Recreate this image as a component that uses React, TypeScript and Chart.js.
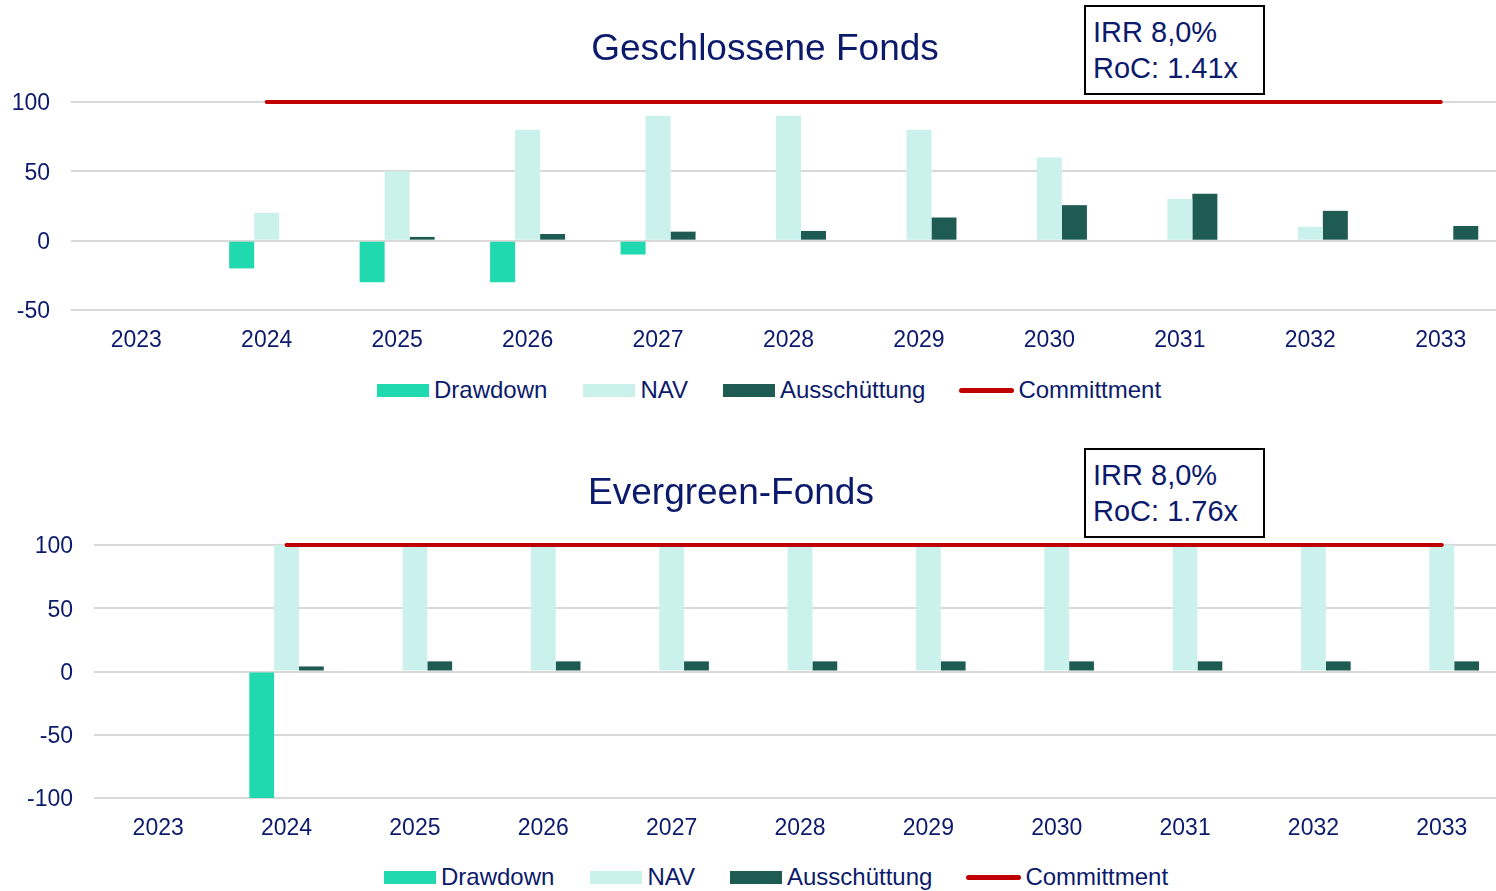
import React, { useEffect, useRef } from "react";
import { Chart, registerables } from "chart.js";

Chart.register(...registerables);

const years = ["2023", "2024", "2025", "2026", "2027", "2028", "2029", "2030", "2031", "2032", "2033"];

// Geschlossene Fonds
const drawdownClosed = [0, -20, -30, -30, -10, 0, 0, 0, 0, 0, 0];
const navClosed = [0, 20, 50, 80, 90, 90, 80, 60, 30, 10, 0];
const distClosed = [0, 0.7, 2.7, 4.8, 6.5, 7, 16.7, 25.6, 33.8, 21.5, 10.6];
const commitClosed = [null, 100, 100, 100, 100, 100, 100, 100, 100, 100, 100];
const closedTicks = { min: -50, max: 100, step: 50 };

// Evergreen-Fonds
const drawdownEver = [0, -100, 0, 0, 0, 0, 0, 0, 0, 0, 0];
const navEver = [0, 100, 100, 100, 100, 100, 100, 100, 100, 100, 100];
const distEver = [0, 4, 8, 8, 8, 8, 8, 8, 8, 8, 8];
const commitEver = [null, 100, 100, 100, 100, 100, 100, 100, 100, 100, 100];
const everTicks = { min: -100, max: 100, step: 50 };

const legendLabels = ["Drawdown", "NAV", "Ausschüttung", "Committment"];

const C_DRAW = "#21d9ae";
const C_NAV = "#cbf1ec";
const C_DIST = "#1e5b52";
const C_COMMIT = "#c00000";
const NAVY = "#0c1a6c";
const FONT = "'Liberation Sans', Arial, sans-serif";

type ChartProps = {
  drawdown: number[];
  nav: number[];
  dist: number[];
  commit: (number | null)[];
  ticks: { min: number; max: number; step: number };
  width: number;
  height: number;
  padTop: number;
  yWidth: number;
  catPct: number;
  style: React.CSSProperties;
};

function FundChart(p: ChartProps) {
  const ref = useRef<HTMLCanvasElement | null>(null);
  useEffect(() => {
    if (!ref.current) return;
    const chart = new Chart(ref.current, {
      type: "bar",
      data: {
        labels: years,
        datasets: [
          {
            type: "line",
            label: legendLabels[3],
            data: p.commit,
            borderColor: C_COMMIT,
            backgroundColor: C_COMMIT,
            borderWidth: 4,
            pointRadius: 0,
            borderCapStyle: "round",
            clip: false,
            order: 0,
          } as any,
          {
            label: legendLabels[0],
            data: p.drawdown,
            backgroundColor: C_DRAW,
            borderWidth: 0,
            order: 1,
          },
          {
            label: legendLabels[1],
            data: p.nav,
            backgroundColor: C_NAV,
            borderWidth: 0,
            order: 1,
          },
          {
            label: legendLabels[2],
            data: p.dist,
            backgroundColor: C_DIST,
            borderWidth: 0,
            order: 1,
          },
        ],
      },
      options: {
        responsive: false,
        animation: false,
        devicePixelRatio: 1,
        layout: { padding: { top: p.padTop, left: 0, right: 0, bottom: 0 } },
        datasets: { bar: { categoryPercentage: p.catPct, barPercentage: 1 } },
        plugins: {
          legend: { display: false },
          tooltip: { enabled: false },
          title: { display: false },
        },
        scales: {
          x: {
            offset: true,
            grid: { display: false, drawTicks: false },
            border: { display: false },
            ticks: {
              color: NAVY,
              font: { family: FONT, size: 23 },
              padding: 17,
              maxRotation: 0,
              autoSkip: false,
            },
            afterFit: (scale: any) => {
              scale.height = 50;
            },
          },
          y: {
            min: p.ticks.min,
            max: p.ticks.max,
            grid: { color: "#d9d9d9", lineWidth: 2, drawTicks: false },
            border: { display: false },
            ticks: {
              stepSize: p.ticks.step,
              color: NAVY,
              font: { family: FONT, size: 23 },
              padding: 21,
              labelOffset: 2,
            },
            afterFit: (scale: any) => {
              scale.width = p.yWidth;
            },
          },
        },
      } as any,
    });
    return () => chart.destroy();
  }, []);
  return (
    <canvas
      ref={ref}
      width={p.width}
      height={p.height}
      style={{ position: "absolute", width: p.width, height: p.height, ...p.style }}
    />
  );
}

function Legend({ left, top }: { left: number; top: number }) {
  const text: React.CSSProperties = { fontFamily: FONT, fontSize: 24, color: NAVY, marginLeft: 5, whiteSpace: "nowrap" };
  const box = (c: string): React.CSSProperties => ({ display: "inline-block", width: 52, height: 13, background: c });
  return (
    <div
      style={{
        position: "absolute",
        left,
        top: top - 15,
        height: 30,
        display: "flex",
        alignItems: "center",
      }}
    >
      <span style={box(C_DRAW)} />
      <span style={text}>{legendLabels[0]}</span>
      <span style={{ ...box(C_NAV), marginLeft: 36 }} />
      <span style={text}>{legendLabels[1]}</span>
      <span style={{ ...box(C_DIST), marginLeft: 35 }} />
      <span style={text}>{legendLabels[2]}</span>
      <span
        style={{
          display: "inline-block",
          width: 55,
          height: 5,
          borderRadius: 3,
          background: C_COMMIT,
          marginLeft: 34,
        }}
      />
      <span style={{ ...text, marginLeft: 4 }}>{legendLabels[3]}</span>
    </div>
  );
}

function Title({ text, cx, top }: { text: string; cx: number; top: number }) {
  return (
    <div
      style={{
        position: "absolute",
        left: cx,
        top,
        transform: "translateX(-50%)",
        fontFamily: FONT,
        fontSize: 37,
        lineHeight: "37px",
        color: NAVY,
        whiteSpace: "nowrap",
      }}
    >
      {text}
    </div>
  );
}

function InfoBox({ lines, top }: { lines: string[]; top: number }) {
  return (
    <div
      style={{
        position: "absolute",
        left: 1084,
        top,
        width: 181,
        height: 90,
        boxSizing: "border-box",
        border: "2px solid #000",
        background: "#fff",
        paddingLeft: 7,
        paddingTop: 7,
        fontFamily: FONT,
        fontSize: 29,
        lineHeight: "36px",
        color: NAVY,
        whiteSpace: "nowrap",
      }}
    >
      {lines.map((l) => (
        <div key={l}>{l}</div>
      ))}
    </div>
  );
}

export default function App() {
  return (
    <div
      style={{
        position: "fixed",
        left: 0,
        top: 0,
        width: 1496,
        height: 891,
        overflow: "hidden",
        background: "#fff",
      }}
    >
      <FundChart
        drawdown={drawdownClosed}
        nav={navClosed}
        dist={distClosed}
        commit={commitClosed}
        ticks={closedTicks}
        width={1506}
        height={360}
        padTop={102}
        yWidth={71}
        catPct={0.575}
        style={{ left: 0, top: 0 }}
      />
      <Title text="Geschlossene Fonds" cx={765} top={29} />
      <InfoBox lines={["IRR 8,0%", "RoC: 1.41x"]} top={5} />
      <Legend left={377} top={390} />

      <FundChart
        drawdown={drawdownEver}
        nav={navEver}
        dist={distEver}
        commit={commitEver}
        ticks={everTicks}
        width={1506}
        height={418}
        padTop={115}
        yWidth={94}
        catPct={0.58}
        style={{ left: 0, top: 430 }}
      />
      <Title text="Evergreen-Fonds" cx={731} top={473} />
      <InfoBox lines={["IRR 8,0%", "RoC: 1.76x"]} top={448} />
      <Legend left={384} top={877} />
    </div>
  );
}
